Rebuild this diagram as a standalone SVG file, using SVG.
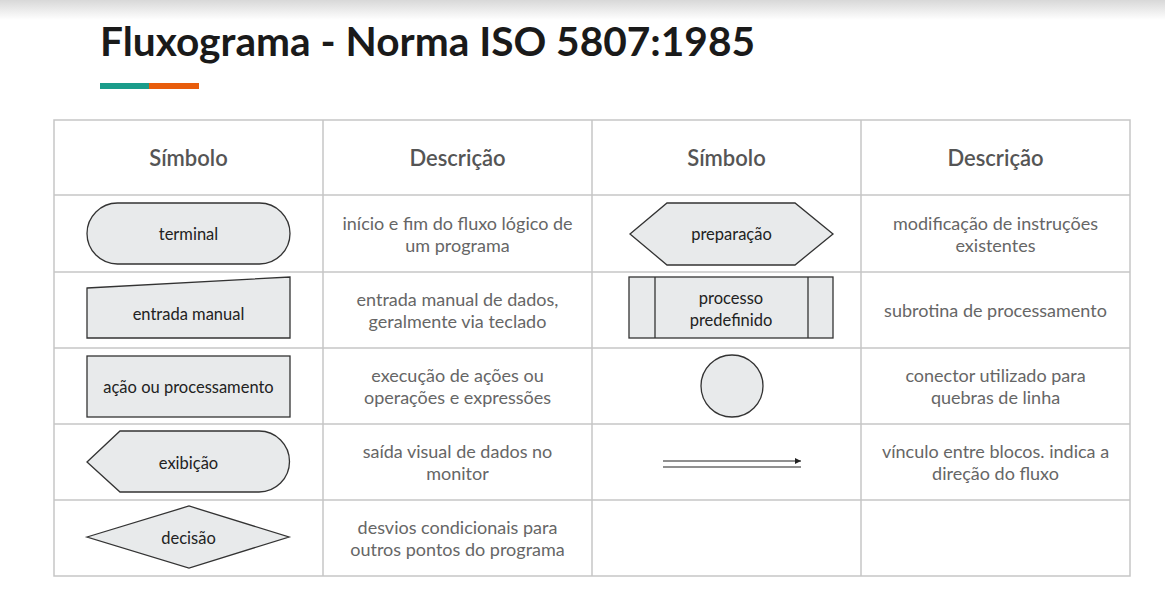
<svg xmlns="http://www.w3.org/2000/svg" width="1165" height="597" viewBox="0 0 1165 597">
<defs>
<linearGradient id="topshade" x1="0" y1="0" x2="0" y2="1">
<stop offset="0" stop-color="#d8d8d8"/>
<stop offset="1" stop-color="#ffffff"/>
</linearGradient>
<marker id="arr" viewBox="0 0 10 10" refX="10" refY="5" markerWidth="8" markerHeight="6" markerUnits="userSpaceOnUse" orient="auto">
<path d="M0,0 L10,5 L0,10 z" fill="#222"/>
</marker>
</defs>
<style>
.grid{stroke:#c6c6c6;stroke-width:1.5;fill:none}
.shape{fill:#e8eaeb;stroke:#333;stroke-width:1.3}
.hdr{font-family:Lato,"Liberation Sans",sans-serif;font-size:22px;font-weight:600;fill:#555;text-anchor:middle}
.desc{font-family:Lato,"Liberation Sans",sans-serif;font-size:18px;fill:#666;text-anchor:middle}
.lbl{font-family:Lato,"Liberation Sans",sans-serif;font-size:16.5px;fill:#222;text-anchor:middle}
.title{font-family:Lato,"Liberation Sans",sans-serif;font-size:40px;font-weight:700;fill:#1a1a1a}
</style>
<rect x="0" y="0" width="1165" height="597" fill="#ffffff"/>
<rect x="0" y="0" width="1165" height="20" fill="url(#topshade)"/>
<text class="title" x="100" y="56" textLength="655" lengthAdjust="spacingAndGlyphs">Fluxograma - Norma ISO 5807:1985</text>
<rect x="100" y="83" width="49" height="6" fill="#1a9c8a"/>
<rect x="149" y="83" width="50" height="6" fill="#e85d0c"/>

<g id="table">
<rect class="grid" x="54" y="120" width="1076" height="456"/>
<line class="grid" x1="323" y1="120" x2="323" y2="576"/>
<line class="grid" x1="592" y1="120" x2="592" y2="576"/>
<line class="grid" x1="861" y1="120" x2="861" y2="576"/>
<line class="grid" x1="54" y1="195" x2="1130" y2="195"/>
<line class="grid" x1="54" y1="272" x2="1130" y2="272"/>
<line class="grid" x1="54" y1="348" x2="1130" y2="348"/>
<line class="grid" x1="54" y1="424" x2="1130" y2="424"/>
<line class="grid" x1="54" y1="500" x2="1130" y2="500"/>
<text class="hdr" x="188.5" y="166">Símbolo</text>
<text class="hdr" x="457.5" y="166">Descrição</text>
<text class="hdr" x="726.5" y="166">Símbolo</text>
<text class="hdr" x="995.5" y="166">Descrição</text>
</g>

<g id="terminal">
<rect class="shape" x="87" y="203" width="203" height="61" rx="30.5" ry="30.5"/>
<text class="lbl" x="188.5" y="240">terminal</text>
</g>
<g id="desc-terminal">
<text class="desc" x="457.5" y="230">início e fim do fluxo lógico de</text>
<text class="desc" x="457.5" y="252">um programa</text>
</g>

<g id="preparacao">
<polygon class="shape" points="630,234 667,203 795,203 833,234 795,265 667,265"/>
<text class="lbl" x="731.5" y="240">preparação</text>
</g>
<g id="desc-preparacao">
<text class="desc" x="995.5" y="230">modificação de instruções</text>
<text class="desc" x="995.5" y="252">existentes</text>
</g>

<g id="entrada-manual">
<polygon class="shape" points="87,288 290,277 290,338 87,338"/>
<text class="lbl" x="188.5" y="320">entrada manual</text>
</g>
<g id="desc-entrada-manual">
<text class="desc" x="457.5" y="306">entrada manual de dados,</text>
<text class="desc" x="457.5" y="328">geralmente via teclado</text>
</g>

<g id="processo-predefinido">
<rect class="shape" x="629" y="277" width="204" height="61"/>
<line class="shape" x1="655" y1="277" x2="655" y2="338"/>
<line class="shape" x1="808" y1="277" x2="808" y2="338"/>
<text class="lbl" x="731" y="304">processo</text>
<text class="lbl" x="731" y="326">predefinido</text>
</g>
<g id="desc-processo-predefinido">
<text class="desc" x="995.5" y="317">subrotina de processamento</text>
</g>

<g id="acao">
<rect class="shape" x="87" y="356" width="203" height="61"/>
<text class="lbl" x="188.5" y="393">ação ou processamento</text>
</g>
<g id="desc-acao">
<text class="desc" x="457.5" y="382">execução de ações ou</text>
<text class="desc" x="457.5" y="404">operações e expressões</text>
</g>

<g id="conector">
<circle class="shape" cx="732" cy="386" r="31"/>
</g>
<g id="desc-conector">
<text class="desc" x="995.5" y="382">conector utilizado para</text>
<text class="desc" x="995.5" y="404">quebras de linha</text>
</g>

<g id="exibicao">
<path class="shape" d="M87,462 L120,431 L259,431 A30.5,30.5 0 0 1 259,492 L120,492 Z"/>
<text class="lbl" x="188.5" y="469">exibição</text>
</g>
<g id="desc-exibicao">
<text class="desc" x="457.5" y="458">saída visual de dados no</text>
<text class="desc" x="457.5" y="480">monitor</text>
</g>

<g id="connectors">
<line x1="663" y1="461" x2="801" y2="461" stroke="#222" stroke-width="1.2" marker-end="url(#arr)"/>
<line x1="663" y1="467" x2="801" y2="467" stroke="#222" stroke-width="1.2"/>
</g>
<g id="desc-fluxo">
<text class="desc" x="995.5" y="458">vínculo entre blocos. indica a</text>
<text class="desc" x="995.5" y="480">direção do fluxo</text>
</g>

<g id="decisao">
<polygon class="shape" points="87,537 189,506 289,537 189,568"/>
<text class="lbl" x="188.5" y="544">decisão</text>
</g>
<g id="desc-decisao">
<text class="desc" x="457.5" y="534">desvios condicionais para</text>
<text class="desc" x="457.5" y="556">outros pontos do programa</text>
</g>
</svg>
